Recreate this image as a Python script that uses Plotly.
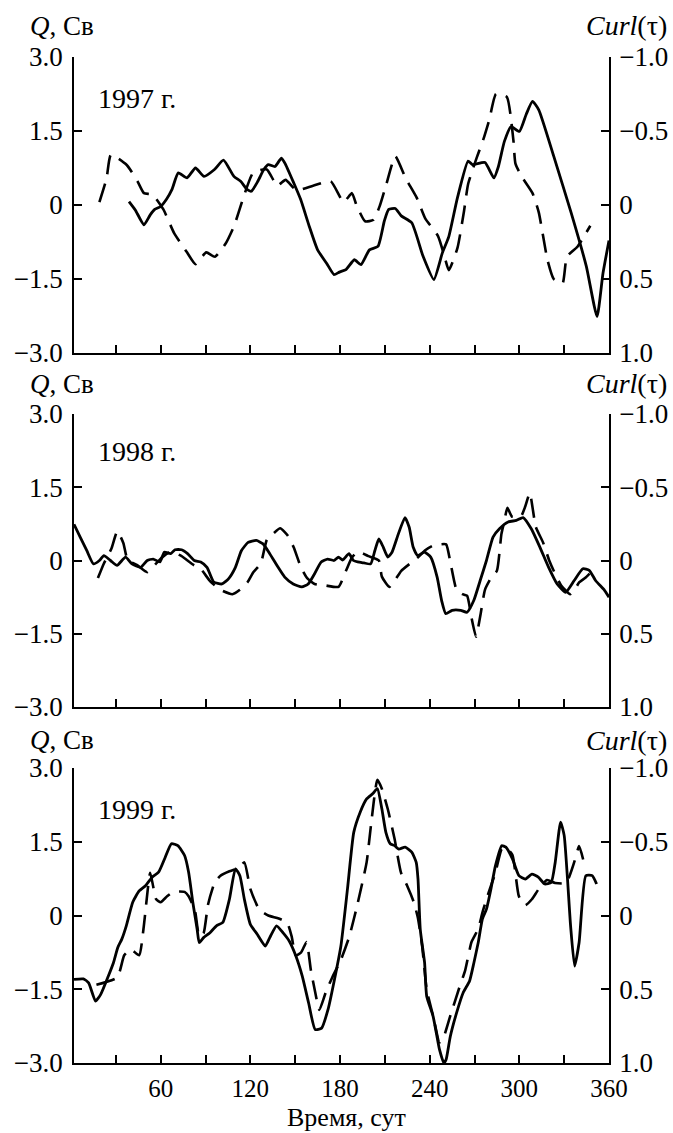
import plotly.graph_objects as go

# ---------------- data ----------------
# 1997
day_q97 = [38.8, 43, 48.8, 53, 56, 60, 64, 67.5, 71.8, 77.6, 83.3, 89, 96, 102, 109, 113.5, 118, 120.7,
           125, 129, 132, 136.5, 140.8, 143.6, 149, 153.7, 159.4, 165, 171, 176, 179.6, 184, 189.6, 194,
           199.7, 205.4, 209.7, 212.6, 217, 221, 228, 235.6, 242.8, 248.5, 252.8, 258.6, 265.7, 268.6,
           277, 283, 286, 290, 294.5, 300, 304.5, 308.8, 313, 323, 334.7, 344.8, 352, 356, 360]
q97 = [0.07, -0.10, -0.40, -0.20, -0.09, -0.03, 0.12, 0.31, 0.65, 0.55, 0.75, 0.58, 0.72, 0.91, 0.58, 0.48,
       0.31, 0.28, 0.48, 0.72, 0.82, 0.78, 0.95, 0.82, 0.45, 0.11, -0.43, -0.91, -1.18, -1.41, -1.36, -1.31,
       -1.11, -1.21, -0.91, -0.84, -0.32, -0.09, -0.07, -0.22, -0.36, -1.04, -1.51, -0.97, -0.64, 0.15, 0.89,
       0.82, 0.86, 0.55, 0.78, 1.29, 1.59, 1.49, 1.83, 2.10, 1.93, 0.99, -0.16, -1.24, -2.26, -1.38, -0.72]
day_c97 = [19, 23.8, 26.7, 37.3, 44.5, 48.8, 54.6, 61.8, 69, 77.6, 83.3, 90.5, 96.3, 103.5, 109.2, 115, 122,
           131, 138, 143.6, 150.8, 162, 173.8, 182.4, 188, 191, 196.8, 202.5, 206.8, 211, 217, 224, 231.3,
           237, 245.6, 250, 252.8, 258.6, 263, 265.7, 271.5, 275.8, 280, 284.4, 291.6, 296, 297.4, 301.7,
           308.8, 313, 318.8, 323, 328.9, 331.8, 339, 347.5]
curl97 = [-0.02, -0.18, -0.34, -0.27, -0.16, -0.08, -0.07, 0.03, 0.19, 0.32, 0.40, 0.32, 0.35, 0.26, 0.14,
          -0.04, -0.22, -0.24, -0.13, -0.17, -0.10, -0.13, -0.16, -0.02, -0.08, 0.00, 0.11, 0.10, 0.00, -0.14,
          -0.33, -0.18, -0.05, 0.09, 0.21, 0.35, 0.44, 0.29, 0.04, -0.14, -0.32, -0.44, -0.58, -0.75, -0.73,
          -0.44, -0.28, -0.19, -0.08, 0.05, 0.37, 0.50, 0.53, 0.35, 0.28, 0.14]

# 1998
day_q98 = [2, 6.3, 10.6, 15, 19, 22, 26.4, 30.8, 36.5, 40.8, 46.6, 51, 55, 59.5, 62.4, 66.7, 69.6, 74, 78,
           82.5, 86.8, 91, 95.5, 101, 105.5, 110, 114, 118.5, 124, 128.5, 133, 138.6, 143, 148.7, 154.4,
           158.7, 163, 167.4, 171.7, 176, 179, 181.8, 186, 189, 191.8, 196, 200.5, 203.3, 206, 209, 212,
           214.8, 219, 223.5, 226.3, 229, 232, 236.4, 240.7, 245, 248, 250.8, 255, 260.8, 265, 269.5,
           273.8, 278, 282.4, 286.7, 292.5, 298, 302.5, 308, 313.8, 319.6, 325.3, 331, 336.7, 342.5,
           346.8, 351, 357, 360]
q98 = [0.74, 0.47, 0.20, -0.07, 0.00, 0.10, 0.00, -0.10, 0.07, -0.07, -0.14, 0.00, 0.03, -0.03, 0.17, 0.14,
       0.22, 0.22, 0.14, 0.00, -0.03, -0.14, -0.44, -0.48, -0.37, -0.14, 0.20, 0.37, 0.41, 0.34, 0.14, -0.14,
       -0.34, -0.48, -0.54, -0.48, -0.27, -0.03, 0.03, 0.00, 0.07, 0.01, 0.14, 0.00, -0.03, -0.05, -0.07,
       0.20, 0.44, 0.27, 0.07, 0.17, 0.54, 0.88, 0.68, 0.27, 0.10, 0.17, 0.07, -0.34, -0.82, -1.09, -1.02,
       -1.02, -1.06, -0.82, -0.41, 0.00, 0.48, 0.65, 0.79, 0.82, 0.88, 0.65, 0.27, -0.14, -0.48, -0.65,
       -0.41, -0.17, -0.20, -0.41, -0.61, -0.75]
day_c98 = [18, 22, 27, 31, 35, 38, 44, 51, 57, 62, 67, 74, 78, 82, 87, 93, 100, 108, 113, 118, 122, 127,
           131, 135, 140, 145, 149, 154, 158, 163, 170, 179, 184, 188, 192, 199, 206, 208, 213, 217, 221,
           227, 232, 237, 242, 247, 251, 254, 258, 262, 265, 268, 271, 274, 277, 281, 285, 288, 290, 292,
           295, 301, 304, 307, 311, 316, 320, 323, 328, 334, 337, 340, 344, 347]
curl98 = [0.12, 0.02, -0.08, -0.20, -0.12, 0.00, 0.03, 0.08, 0.02, -0.03, -0.06, -0.03, 0.00, 0.03, 0.06,
          0.14, 0.20, 0.23, 0.20, 0.15, 0.08, 0.02, -0.14, -0.18, -0.22, -0.17, -0.09, 0.05, 0.12, 0.16,
          0.17, 0.18, 0.07, -0.02, -0.06, -0.03, 0.00, 0.11, 0.18, 0.13, 0.07, 0.02, -0.02, -0.07, -0.10,
          -0.11, -0.11, 0.02, 0.20, 0.23, 0.24, 0.39, 0.52, 0.37, 0.20, 0.12, 0.07, -0.18, -0.27, -0.36,
          -0.30, -0.30, -0.37, -0.46, -0.23, -0.12, 0.00, 0.07, 0.17, 0.23, 0.20, 0.15, 0.12, 0.09]

# 1999
day_q99 = [2, 8.3, 11.8, 16.4, 19.8, 25, 28.4, 31.3, 34, 37, 41.3, 45.6, 50, 54.3, 58.6, 63, 67.2, 71.5,
           76, 78.7, 81.5, 84.4, 85.8, 88.7, 93, 97.3, 101.6, 106, 110, 113, 116, 120, 124.6, 130, 133,
           137.5, 141.8, 146, 150.4, 154.7, 159, 163.4, 167.7, 172, 176.3, 180.6, 185, 189.2, 193.5, 197.8,
           202, 205, 208, 210.7, 213.6, 216.5, 219.3, 223.6, 228, 231, 232.2, 233.7, 236.6, 238, 242.3,
           246.6, 249.5, 251, 253.8, 258, 262.4, 266.7, 269.6, 272.5, 275.3, 278, 281, 284, 288.2, 291,
           295.4, 299.7, 304, 308.4, 312.7, 317, 321.3, 324, 327.6, 330, 334.3, 337, 340, 344.5, 348.8, 351.7]
q99 = [-1.30, -1.29, -1.37, -1.74, -1.61, -1.23, -0.96, -0.65, -0.48, -0.21, 0.27, 0.50, 0.61, 0.78, 0.88,
       1.18, 1.46, 1.42, 1.22, 0.88, 0.27, -0.28, -0.55, -0.45, -0.35, -0.21, -0.14, 0.33, 0.95, 0.81, 0.33,
       -0.18, -0.38, -0.62, -0.45, -0.21, -0.35, -0.52, -0.82, -1.23, -1.78, -2.32, -2.29, -1.91, -1.30,
       -0.62, 0.54, 1.69, 2.10, 2.37, 2.48, 2.58, 2.17, 1.69, 1.46, 1.42, 1.35, 1.39, 1.29, 1.08, 0.74,
       -0.28, -0.96, -1.64, -2.05, -2.73, -3.00, -2.93, -2.46, -1.98, -1.57, -1.33, -0.96, -0.55, -0.07,
       0.13, 0.54, 1.01, 1.42, 1.39, 1.15, 0.81, 0.74, 0.84, 0.78, 0.64, 0.67, 1.08, 1.90, 1.63, -0.21,
       -1.03, -0.55, 0.81, 0.81, 0.64]
day_c99 = [17, 31, 35.6, 40, 45.6, 48.5, 51.4, 53, 57, 60, 64.3, 68.6, 76, 78.7, 83, 85.8, 88.7, 91.6, 96,
           100, 106, 111.7, 116, 120, 126, 132, 139, 144.7, 147.6, 150.4, 154, 157.6, 160.5, 163.4, 166.2,
           170.5, 174.8, 180.6, 186.3, 192, 197.8, 200.7, 205, 208, 212, 216.5, 220.8, 225, 229.4, 232.2,
           235, 238, 242.3, 246.6, 249.5, 253.8, 259.5, 263.8, 268, 272.5, 275.3, 279.6, 284, 288.2, 291,
           295.4, 299.7, 304, 308.4, 313, 318.5, 324, 331.3, 337, 340, 342.7]
curl99 = [0.47, 0.42, 0.27, 0.23, 0.27, 0.09, -0.18, -0.29, -0.11, -0.09, -0.13, -0.16, -0.16, -0.13, -0.03,
          0.14, 0.12, -0.07, -0.22, -0.27, -0.30, -0.32, -0.36, -0.18, -0.04, 0.00, 0.02, 0.05, 0.14, 0.27,
          0.25, 0.18, 0.37, 0.52, 0.64, 0.52, 0.42, 0.30, 0.14, -0.09, -0.36, -0.61, -0.92, -0.86, -0.72,
          -0.52, -0.29, -0.20, -0.09, 0.02, 0.21, 0.50, 0.68, 0.86, 0.82, 0.68, 0.50, 0.37, 0.18, 0.09,
          -0.02, -0.16, -0.29, -0.45, -0.46, -0.41, -0.13, -0.07, -0.11, -0.18, -0.24, -0.22, -0.22, -0.37,
          -0.47, -0.38]

year_labels = ["1997 г.", "1998 г.", "1999 г."]
q_ticks = [-3.0, -1.5, 0, 1.5, 3.0]
q_tick_text = ["\u22123.0", "\u22121.5", "0", "1.5", "3.0"]
curl_ticks = [-1.0, -0.5, 0, 0.5, 1.0]
curl_tick_text = ["\u22121.0", "\u22120.5", "0", "0.5", "1.0"]
x_ticks = [30, 60, 90, 120, 150, 180, 210, 240, 270, 300, 330, 360]
x_tick_text = ["", "60", "", "120", "", "180", "", "240", "", "300", "", "360"]

# ---------------- layout geometry ----------------
W, H = 673, 1133
FONT = "Liberation Serif"
TICK_SIZE = 27
X_TICK_SIZE = 25
x_dom = [74 / W, 609 / W]
panels_px = [(57, 353), (414, 707), (768, 1063)]  # top/bottom pixel rows of each panel
label_rows = [(26, 99), (384, 452), (740, 809)]

def ydom(top, bot):
    return [1 - bot / H, 1 - top / H]

series = [
    (day_q97, q97, day_c97, curl97),
    (day_q98, q98, day_c98, curl98),
    (day_q99, q99, day_c99, curl99),
]

fig = go.Figure()
layout = dict(
    template="none",
    width=W, height=H, margin=dict(l=0, r=0, t=0, b=0, pad=0), autosize=False,
    paper_bgcolor="white", plot_bgcolor="white", showlegend=False,
    font=dict(family=FONT, size=TICK_SIZE, color="black"),
)
annotations = []

for i, (dq, q, dc, c) in enumerate(series):
    xa = "x" if i == 0 else f"x{i + 1}"
    yl = "y" if i == 0 else f"y{2 * i + 1}"
    yr = f"y{2 * i + 2}"
    xkey = "xaxis" if i == 0 else f"xaxis{i + 1}"
    ylkey = "yaxis" if i == 0 else f"yaxis{2 * i + 1}"
    yrkey = f"yaxis{2 * i + 2}"
    top, bot = panels_px[i]

    fig.add_trace(go.Scatter(x=dq, y=q, xaxis=xa, yaxis=yl, mode="lines",
                             line=dict(color="black", width=2.8, shape="spline", smoothing=0.5)))
    fig.add_trace(go.Scatter(x=dc, y=c, xaxis=xa, yaxis=yr, mode="lines",
                             line=dict(color="black", width=2.6, dash="19px,10px",
                                       shape="spline", smoothing=0.5)))

    layout[xkey] = dict(
        domain=x_dom, anchor=yl, range=[2, 360], tickmode="array", tickvals=x_ticks,
        ticktext=x_tick_text, showticklabels=(i == 2), ticks="inside", ticklen=8, tickwidth=1.5,
        tickcolor="black", showline=True, linecolor="black", linewidth=2, showgrid=False,
        zeroline=False, tickfont=dict(family=FONT, size=X_TICK_SIZE), ticklabelstandoff=2,
        automargin=False,
    )
    layout[ylkey] = dict(
        domain=ydom(top, bot), anchor=xa, range=[-3, 3], tickmode="array", tickvals=q_ticks,
        ticktext=q_tick_text, ticks="inside", ticklen=8, tickwidth=1.5, tickcolor="black",
        showline=True, linecolor="black", linewidth=1.8, showgrid=False, zeroline=False,
        tickfont=dict(family=FONT, size=TICK_SIZE), ticklabelstandoff=4, automargin=False,
    )
    layout[yrkey] = dict(
        domain=ydom(top, bot), anchor=xa, overlaying=yl, side="right", range=[1, -1],
        tickmode="array", tickvals=curl_ticks, ticktext=curl_tick_text, ticks="inside",
        ticklen=8, tickwidth=1.5, tickcolor="black", showline=True, linecolor="black",
        linewidth=1.8, showgrid=False, zeroline=False, tickfont=dict(family=FONT, size=TICK_SIZE),
        ticklabelstandoff=3, automargin=False,
    )

    ty, ly = label_rows[i]
    annotations.append(dict(text="<i>Q</i>, Св", x=28 / W, y=1 - ty / H, xref="paper", yref="paper",
                            xanchor="left", yanchor="middle", showarrow=False,
                            font=dict(family=FONT, size=27)))
    annotations.append(dict(text="<i>Curl</i>(τ)", x=669 / W, y=1 - ty / H, xref="paper", yref="paper",
                            xanchor="right", yanchor="middle", showarrow=False,
                            font=dict(family=FONT, size=28)))
    annotations.append(dict(text=year_labels[i], x=96 / W, y=1 - ly / H, xref="paper", yref="paper",
                            xanchor="left", yanchor="middle", showarrow=False,
                            font=dict(family=FONT, size=28)))

annotations.append(dict(text="Время, сут", x=347 / W, y=0, xref="paper", yref="paper",
                        xanchor="center", yanchor="bottom", showarrow=False, borderpad=0,
                        font=dict(family=FONT, size=26)))
layout["annotations"] = annotations
fig.update_layout(**layout)
fig.write_html("out.html",
               post_script="document.body.style.margin='0';document.body.style.padding='0';"
                           "document.documentElement.style.overflow='hidden';")
